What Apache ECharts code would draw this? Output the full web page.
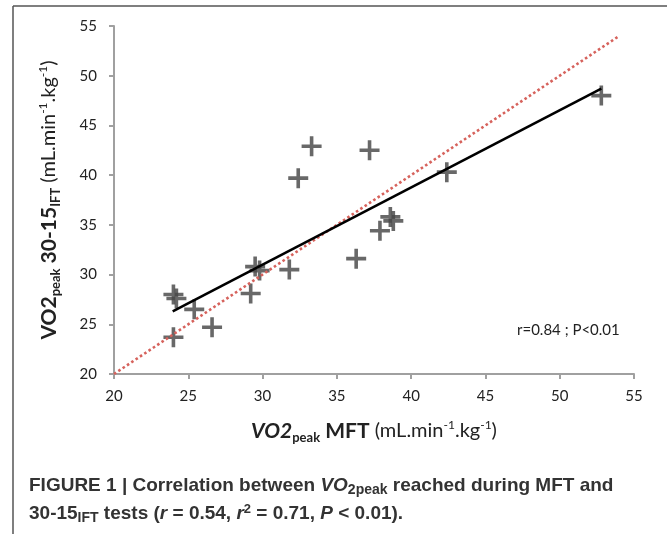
<!DOCTYPE html>
<html>
<head>
<meta charset="utf-8">
<script src="https://cdn.jsdelivr.net/npm/echarts@6/dist/echarts.min.js"></script>
<style>
  html, body { margin: 0; padding: 0; background: #fff; }
  #chart { width: 667px; height: 534px; }
</style>
</head>
<body>
<div id="chart"></div>
<script>
// VO2peak MFT (x) vs VO2peak 30-15IFT (y)
const mftValues = [52.8, 33.3, 37.2, 32.4, 42.4, 38.6, 38.8, 37.9, 36.3, 31.8, 29.5, 29.8, 29.2, 24.0, 24.2, 25.4, 26.6, 24.0]
const iftValues = [48.0, 42.9, 42.5, 39.7, 40.3, 35.8, 35.4, 34.4, 31.6, 30.5, 30.8, 30.4, 28.1, 28.0, 27.6, 26.5, 24.7, 23.7]

// regression line end points and identity line (y = x)
const trendLine = [[23.95, 26.3], [52.8, 48.7]]
const identityLine = [[20, 20], [53.9, 53.9]]

const axisTicks = [20, 25, 30, 35, 40, 45, 50, 55]

const plusPath = 'path://M8.2,0h3.6v8.2h8.2v3.6h-8.2v8.2h-3.6v-8.2h-8.2v-3.6h8.2z'
const axisGrey = '#a0a0a0'
const font = 'Lato'

const nameRich = {
  b: { fontFamily: font, fontWeight: 'bold', fontSize: 21, color: '#222', lineHeight: 30 },
  bi: { fontFamily: font, fontWeight: 'bold', fontStyle: 'italic', fontSize: 21, color: '#222', lineHeight: 30 },
  bs: { fontFamily: font, fontWeight: 'bold', fontSize: 13, color: '#222', verticalAlign: 'bottom', padding: [0, 0, 2, 0] },
  n: { fontFamily: font, fontSize: 20, color: '#222', lineHeight: 30 },
  sup: { fontFamily: font, fontSize: 12, color: '#222', verticalAlign: 'top', padding: [3, 0, 0, 0] }
}

const chart = echarts.init(document.getElementById('chart'))

const option = {
  animation: false,
  backgroundColor: '#fff',
  grid: { left: 114, right: 33, top: 26, bottom: 160 },
  xAxis: {
    type: 'value',
    min: axisTicks[0],
    max: axisTicks[axisTicks.length - 1],
    interval: 5,
    splitLine: { show: false },
    axisLine: { onZero: false, lineStyle: { color: axisGrey, width: 2 } },
    axisTick: { show: true, length: 5, lineStyle: { color: axisGrey, width: 2 } },
    axisLabel: { color: '#222', fontFamily: font, fontSize: 15, margin: 15 },
    name: '{bi|VO2}{bs|peak}{b| MFT}{n| (mL.min}{sup|-1}{n|.kg}{sup|-1}{n|)}',
    nameLocation: 'middle',
    nameGap: 42,
    nameTextStyle: { rich: nameRich }
  },
  yAxis: {
    type: 'value',
    min: axisTicks[0],
    max: axisTicks[axisTicks.length - 1],
    interval: 5,
    splitLine: { show: false },
    axisLine: { show: true, onZero: false, lineStyle: { color: axisGrey, width: 2 } },
    axisTick: { show: true, length: 5, lineStyle: { color: axisGrey, width: 2 } },
    axisLabel: { color: '#222', fontFamily: font, fontSize: 15, margin: 17 },
    name: '{b|VO2}{bs|peak}{b| 30-15}{bs|IFT}{n| (mL.min}{sup|-1}{n|.kg}{sup|-1}{n|)}',
    nameLocation: 'middle',
    nameRotate: 90,
    nameGap: 50,
    nameTextStyle: { rich: nameRich }
  },
  series: [
    {
      type: 'scatter',
      symbol: plusPath,
      symbolSize: 20,
      itemStyle: { color: '#474747', opacity: 0.82 },
      data: mftValues.map((x, i) => [x, iftValues[i]]),
      z: 2
    },
    {
      type: 'line',
      data: identityLine,
      symbol: 'none',
      lineStyle: { color: '#d6625c', width: 2.6, type: [2.6, 2.6] },
      z: 3
    },
    {
      type: 'line',
      data: trendLine,
      symbol: 'none',
      lineStyle: { color: '#000', width: 2.6 },
      z: 4
    }
  ],
  graphic: [
    // figure frame (top and left rules)
    { type: 'line', shape: { x1: 13, y1: 6, x2: 667, y2: 6 }, style: { stroke: '#555', lineWidth: 1.5 } },
    { type: 'line', shape: { x1: 13, y1: 6, x2: 13, y2: 534 }, style: { stroke: '#555', lineWidth: 1.5 } },
    {
      type: 'text', left: 517, top: 323,
      style: { text: 'r=0.84 ; P<0.01', fontFamily: font, fontSize: 15, fill: '#222' }
    },
    {
      type: 'text', left: 29, top: 476,
      style: {
        text: '{t|FIGURE 1 | Correlation between }{i|VO}{s|2peak}{t| reached during MFT and}\n' +
              '{t|30-15}{s|IFT}{t| tests (}{i|r}{t| = 0.54, }{i|r}{p|2}{t| = 0.71, }{i|P}{t| < 0.01).}',
        rich: {
          t: { fontFamily: 'Liberation Sans', fontWeight: 'bold', fontSize: 19, fill: '#333', lineHeight: 28 },
          i: { fontFamily: 'Liberation Sans', fontWeight: 'bold', fontStyle: 'italic', fontSize: 19, fill: '#333', lineHeight: 28 },
          s: { fontFamily: 'Liberation Sans', fontWeight: 'bold', fontSize: 14, fill: '#333', verticalAlign: 'bottom', padding: [0, 0, 2, 0] },
          p: { fontFamily: 'Liberation Sans', fontWeight: 'bold', fontSize: 13, fill: '#333', verticalAlign: 'top', padding: [3, 0, 0, 0] }
        }
      }
    }
  ]
}

chart.setOption(option)
</script>
</body>
</html>
